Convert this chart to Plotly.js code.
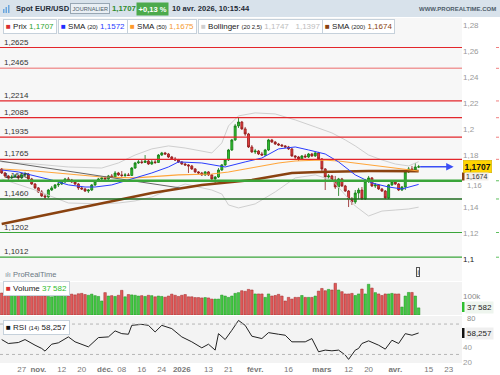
<!DOCTYPE html>
<html><head><meta charset="utf-8">
<script src="https://cdn.plot.ly/plotly-3.0.1.min.js"></script>
<style>html,body{margin:0;padding:0;background:#fff;}#chart{width:500px;height:375px;}</style>
</head><body><div id="chart"></div>
<script>
// ---- data (trading-day index 0 = 17 oct. 2025 ... 125 = 10 avr. 2026)
const open = [1.1691,1.1660,1.1637,1.1622,1.1629,1.1637,1.1622,1.1645,1.1652,1.1614,
1.1575,1.1545,1.1514,1.1483,1.1475,1.1529,1.1545,1.1568,1.1575,1.1591,
1.1614,1.1606,1.1591,1.1575,1.1545,1.1537,1.1521,1.1529,1.1568,1.1598,
1.1614,1.1622,1.1614,1.1637,1.1629,1.1660,1.1645,1.1641,1.1645,1.1641,
1.1698,1.1737,1.1745,1.1741,1.1752,1.1729,1.1745,1.1741,1.1798,1.1814,
1.1806,1.1783,1.1768,1.1760,1.1745,1.1729,1.1722,1.1714,1.1691,1.1668,
1.1660,1.1645,1.1668,1.1645,1.1614,1.1629,1.1683,1.1722,1.1760,1.1837,
1.1914,1.2022,1.2052,1.1999,1.1960,1.1860,1.1822,1.1829,1.1806,1.1798,
1.1837,1.1914,1.1898,1.1883,1.1875,1.1868,1.1860,1.1845,1.1791,1.1783,
1.1768,1.1791,1.1783,1.1806,1.1791,1.1814,1.1768,1.1691,1.1629,1.1637,
1.1606,1.1552,1.1614,1.1560,1.1521,1.1460,1.1437,1.1506,1.1529,1.1460,
1.1598,1.1622,1.1560,1.1568,1.1537,1.1521,1.1468,1.1568,1.1591,1.1575,
1.1529,1.1552,1.1668,1.1691,1.1683,1.1706];
const close = [1.1660,1.1637,1.1622,1.1629,1.1637,1.1622,1.1645,1.1652,1.1614,1.1575,
1.1545,1.1514,1.1483,1.1475,1.1529,1.1545,1.1568,1.1575,1.1591,1.1614,
1.1606,1.1591,1.1575,1.1545,1.1537,1.1521,1.1529,1.1568,1.1598,1.1614,
1.1622,1.1614,1.1637,1.1629,1.1660,1.1645,1.1641,1.1645,1.1641,1.1698,
1.1737,1.1745,1.1741,1.1752,1.1729,1.1745,1.1741,1.1798,1.1814,1.1806,
1.1783,1.1768,1.1760,1.1745,1.1729,1.1722,1.1714,1.1691,1.1668,1.1660,
1.1645,1.1668,1.1645,1.1614,1.1629,1.1683,1.1722,1.1760,1.1837,1.1914,
1.2022,1.2052,1.1999,1.1960,1.1860,1.1822,1.1829,1.1806,1.1798,1.1837,
1.1914,1.1898,1.1883,1.1875,1.1868,1.1860,1.1845,1.1791,1.1783,1.1768,
1.1791,1.1783,1.1806,1.1791,1.1814,1.1768,1.1691,1.1629,1.1637,1.1606,
1.1552,1.1614,1.1560,1.1521,1.1460,1.1437,1.1506,1.1529,1.1460,1.1598,
1.1622,1.1560,1.1568,1.1537,1.1521,1.1468,1.1568,1.1591,1.1575,1.1529,
1.1552,1.1668,1.1691,1.1683,1.1706,1.1707];
const high = [1.1698,1.1668,1.1645,1.1645,1.1652,1.1645,1.1660,1.1668,1.1660,1.1622,
1.1583,1.1552,1.1529,1.1498,1.1537,1.1560,1.1575,1.1591,1.1606,1.1622,
1.1629,1.1614,1.1598,1.1583,1.1560,1.1545,1.1537,1.1575,1.1606,1.1622,
1.1629,1.1637,1.1645,1.1652,1.1675,1.1668,1.1675,1.1660,1.1660,1.1706,
1.1745,1.1760,1.1760,1.1798,1.1760,1.1760,1.1760,1.1806,1.1822,1.1822,
1.1814,1.1791,1.1783,1.1768,1.1752,1.1737,1.1729,1.1722,1.1698,1.1675,
1.1668,1.1675,1.1675,1.1652,1.1637,1.1698,1.1729,1.1768,1.1845,1.1922,
1.2037,1.2083,1.2060,1.2014,1.1968,1.1875,1.1845,1.1837,1.1822,1.1845,
1.1922,1.1922,1.1906,1.1891,1.1883,1.1875,1.1868,1.1852,1.1798,1.1791,
1.1798,1.1806,1.1814,1.1814,1.1822,1.1822,1.1775,1.1698,1.1652,1.1645,
1.1637,1.1622,1.1622,1.1568,1.1529,1.1475,1.1529,1.1545,1.1552,1.1614,
1.1637,1.1629,1.1583,1.1575,1.1545,1.1529,1.1575,1.1606,1.1598,1.1583,
1.1560,1.1675,1.1706,1.1714,1.1737,1.1722];
const low = [1.1652,1.1629,1.1606,1.1614,1.1622,1.1606,1.1614,1.1629,1.1606,1.1568,
1.1537,1.1506,1.1475,1.1460,1.1468,1.1521,1.1537,1.1552,1.1568,1.1583,
1.1598,1.1583,1.1568,1.1529,1.1529,1.1514,1.1506,1.1521,1.1560,1.1591,
1.1606,1.1606,1.1606,1.1622,1.1622,1.1637,1.1629,1.1629,1.1637,1.1637,
1.1691,1.1729,1.1729,1.1737,1.1722,1.1722,1.1729,1.1737,1.1791,1.1798,
1.1775,1.1760,1.1752,1.1737,1.1722,1.1714,1.1660,1.1683,1.1660,1.1652,
1.1637,1.1637,1.1637,1.1598,1.1575,1.1622,1.1675,1.1714,1.1752,1.1829,
1.1906,1.2006,1.1991,1.1945,1.1852,1.1814,1.1806,1.1798,1.1791,1.1791,
1.1829,1.1891,1.1875,1.1868,1.1860,1.1852,1.1837,1.1783,1.1768,1.1752,
1.1760,1.1775,1.1775,1.1783,1.1783,1.1760,1.1668,1.1529,1.1614,1.1598,
1.1537,1.1483,1.1552,1.1514,1.1398,1.1414,1.1422,1.1460,1.1452,1.1452,
1.1583,1.1552,1.1545,1.1529,1.1514,1.1460,1.1460,1.1560,1.1568,1.1521,
1.1521,1.1529,1.1660,1.1668,1.1675,1.1698];
const volume = [116000,112000,108000,110000,106000,104000,108000,102000,100000,98000,
104000,102000,106000,100000,98000,96000,100000,104000,102000,98000,
100000,110000,106000,112000,114000,108000,104000,110000,102000,98000,
74000,118000,100000,102000,98000,104000,130000,96000,108000,106000,
104000,100000,102000,98000,104000,102000,96000,100000,98000,94000,
100000,110000,104000,98000,104000,108000,96000,96000,92000,92000,
90000,92000,90000,
84000,84000,84000,105000,100000,93000,100000,114000,118000,128000,
125000,135000,132000,111000,111000,111000,93000,111000,100000,103000,
109000,100000,74000,93000,84000,93000,93000,103000,93000,93000,
93000,100000,126000,140000,128000,135000,132000,167000,132000,123000,
111000,111000,114000,103000,111000,137000,111000,162000,142000,118000,
111000,103000,111000,111000,114000,111000,111000,
42000,100000,119000,119000,100000,37582];

const sma20Idx = [0,5,10,15,20,25,28,33,40,45,50,53,60,63,67,73,78,83,88,92,97,101,106,111,116,120,125];
const sma20 = [1.1683,1.1668,1.1637,1.1606,1.1568,1.1552,1.1552,1.1568,1.1622,1.1660,1.1706,1.1745,1.1737,1.1722,1.1706,1.1745,1.1775,1.1845,1.1860,1.1837,1.1806,1.1745,1.1645,1.1583,1.1552,1.1537,1.1572];
const sma50Idx = [0,10,20,30,40,45,53,63,68,73,78,83,88,96,101,106,111,116,120,125];
const sma50 = [1.1691,1.1675,1.1652,1.1629,1.1622,1.1629,1.1645,1.1652,1.1668,1.1691,1.1714,1.1737,1.1752,1.1760,1.1752,1.1737,1.1722,1.1706,1.1691,1.1675];
const sma200Idx = [0,34,45,60,75,87,95,110,125];
const sma200 = [1.1268,1.1452,1.1506,1.1568,1.1606,1.1660,1.1668,1.1675,1.1674];
const bollIdx = [0,10,20,30,35,40,45,50,55,60,63,66,68,71,76,82,88,94,99,103,106,110,114,118,122,125];
const bollUp = [1.1745,1.1729,1.1706,1.1698,1.1737,1.1798,1.1845,1.1868,1.1852,1.1829,1.1814,1.1891,1.2022,1.2099,1.2122,1.2114,1.2068,1.2014,1.1968,1.1914,1.1868,1.1798,1.1760,1.1729,1.1714,1.1747];
const bollLo = [1.1614,1.1529,1.1429,1.1422,1.1429,1.1445,1.1475,1.1529,1.1575,1.1545,1.1529,1.1498,1.1414,1.1391,1.1422,1.1514,1.1622,1.1645,1.1606,1.1491,1.1406,1.1329,1.1367,1.1375,1.1383,1.1397];
const rsiIdx = [0,2,5,7,10,12,13,15,17,20,22,25,26,29,32,34,36,38,39,42,44,46,48,51,54,57,60,62,64,65,67,69,71,73,75,78,80,83,85,87,91,93,95,97,99,101,103,104,106,107,108,110,113,115,117,119,121,123,125];
const rsi = [49.6,44.4,45.7,49.6,42.2,37.9,34.4,43.5,45.3,53.1,46.6,42.2,40,52.2,53.1,61,57.4,56.6,68.3,69.6,68.3,59.6,68.3,64,53.1,46.6,38.7,43.5,35.7,57.4,49.6,61.8,74.8,68.3,54,50.9,58.7,56.6,55.3,46.6,46.6,50.9,33.5,35.7,34.8,35.7,29.2,23.5,35.7,37.9,44.4,47.9,42.2,37,48.7,44.4,57.4,55.3,58.257];

const redLevels = [1.2625,1.2465,1.2214,1.2085,1.1935,1.1765];
const redLabels = ['1,2625','1,2465','1,2214','1,2085','1,1935','1,1765'];
const greenLevels = [1.1600,1.1460,1.1202,1.1012];
const greenLabels = ['1,1600','1,1460','1,1202','1,1012'];
const trendStart = [-0.5,1.1752], trendEnd = [53.5,1.1545];

const tickIdx = [6,11,18,24,31,36,42,48,54,62,68,76,86,96,104,110,118,128,134];
const tickLabels = ['27','<b>nov.</b>','12','20','<b>déc.</b>','08','16','24','<b>2026</b>','13','21','<b>févr.</b>','16','<b>mars</b>','12','20','<b>avr.</b>','15','23'];
// 1,16 is written as a separate label, pushed just below the SMA(200) value box
const priceTicks = [1.1,1.12,1.14,1.18,1.2,1.22,1.24,1.26,1.28];
const priceTickText = ['<span style="color:#222">1,1</span>','1,12','1,14','1,18','1,2','1,22','1,24','1,26','1,28'];
const rsiTicks = [20,40];

// ---- layout helpers (pixel -> paper)
const W=462, T=18, H=345;
const px = x => x/W;
const py = y => (T+H-y)/H;
const FONT = 'Liberation Sans, Arial, sans-serif';
const idx = close.map((_,i)=>i);

const GREEN='#2fbf2f', GREEN_L='#137a13', RED='#e23b3b', RED_L='#8e1a1a';

const traces = [
 {type:'scatter',mode:'lines',x:bollIdx,y:bollUp,line:{color:'#cfcfcf',width:1},xaxis:'x',yaxis:'y'},
 {type:'scatter',mode:'lines',x:bollIdx,y:bollLo,line:{color:'#cfcfcf',width:1},xaxis:'x',yaxis:'y'},
 {type:'scatter',mode:'lines',x:sma200Idx,y:sma200,line:{color:'#8a4210',width:2.6},xaxis:'x',yaxis:'y'},
 {type:'scatter',mode:'lines',x:sma50Idx,y:sma50,line:{color:'#ffa53a',width:1.1},xaxis:'x',yaxis:'y'},
 {type:'scatter',mode:'lines',x:sma20Idx,y:sma20,line:{color:'#2a3cff',width:1},xaxis:'x',yaxis:'y'},
 {type:'candlestick',x:idx,open:open,high:high,low:low,close:close,xaxis:'x',yaxis:'y',
  increasing:{fillcolor:GREEN,line:{color:GREEN_L,width:0.8}},
  decreasing:{fillcolor:RED,line:{color:RED_L,width:0.8}},whiskerwidth:0},
 {type:'bar',x:idx,y:volume,xaxis:'x',yaxis:'y2',
  marker:{color:close.map((c,i)=>c>=open[i]?'#43c843':'#e05a5a'),
          line:{color:close.map((c,i)=>c>=open[i]?'#1f8f1f':'#a02828'),width:0.5}}},
 {type:'scatter',mode:'lines',x:rsiIdx,y:rsi,xaxis:'x',yaxis:'y3',line:{color:'#222',width:1}}
];

const shapes = [
 {type:'rect',xref:'paper',yref:'paper',x0:0,x1:px(500),y0:py(17),y1:py(0),fillcolor:'#d8e2eb',line:{width:0},layer:'below'},
 {type:'rect',xref:'paper',yref:'paper',x0:0,x1:1,y0:py(281),y1:py(18),fillcolor:'#f7f7f7',line:{width:0},layer:'below'},
 {type:'rect',xref:'paper',yref:'paper',x0:0,x1:1,y0:py(315),y1:py(282),fillcolor:'#f3f3f3',line:{width:0},layer:'below'},
 {type:'rect',xref:'paper',yref:'paper',x0:0,x1:1,y0:py(363),y1:py(316),fillcolor:'#f3f3f3',line:{width:0},layer:'below'},
 {type:'rect',xref:'paper',yref:'paper',x0:px(3),x1:px(4.5),y0:py(13),y1:py(9),fillcolor:'#6aa6de',line:{width:0}},
 {type:'rect',xref:'paper',yref:'paper',x0:px(5.5),x1:px(7),y0:py(13),y1:py(7),fillcolor:'#6aa6de',line:{width:0}},
 {type:'rect',xref:'paper',yref:'paper',x0:px(8),x1:px(9.5),y0:py(13),y1:py(5),fillcolor:'#6aa6de',line:{width:0}},
 {type:'line',xref:'x',yref:'y',x0:trendStart[0],y0:trendStart[1],x1:trendEnd[0],y1:trendEnd[1],line:{color:'#666',width:1}},
 {type:'line',xref:'paper',yref:'y3',x0:0,x1:1,y0:70,y1:70,line:{color:'#b5b5b5',width:1,dash:'dot'}},
 {type:'line',xref:'paper',yref:'y3',x0:0,x1:1,y0:30,y1:30,line:{color:'#b5b5b5',width:1,dash:'dot'}},
 {type:'rect',xref:'paper',yref:'paper',x0:1,x1:px(464.5),y0:py(180.5),y1:py(172.5),fillcolor:'#8a4210',line:{width:0}},
 {type:'rect',xref:'paper',yref:'paper',x0:1,x1:px(464.5),y0:py(312),y1:py(302),fillcolor:'#2fbf2f',line:{width:0}},
 {type:'rect',xref:'paper',yref:'paper',x0:1,x1:px(464.5),y0:py(338),y1:py(328),fillcolor:'#111',line:{width:0}}
];
redLevels.forEach((v,i)=>{
  shapes.push({type:'line',xref:'paper',yref:'y',x0:0,x1:1,y0:v,y1:v,line:{color:i===1?'#f09a9a':'#e3262b',width:i===1?1.6:1.2}});
  shapes.push({type:'line',xref:'paper',yref:'y',x0:px(496),x1:px(499),y0:v,y1:v,line:{color:'#f08080',width:1}});
});
greenLevels.forEach((v,i)=>{
  shapes.push({type:'line',xref:'paper',yref:'y',x0:0,x1:1,y0:v,y1:v,line:{color:i===1?'#1f6b1f':'#3aa53a',width:i===0?2.6:(i===1?1.6:1.2)}});
  shapes.push({type:'line',xref:'paper',yref:'y',x0:px(496),x1:px(499),y0:v,y1:v,line:{color:'#5fbf5f',width:1}});
});

const box = (x,y,text,extra)=>Object.assign({xref:'paper',yref:'paper',x:px(x),y:py(y),xanchor:'left',yanchor:'middle',
  text:text,showarrow:false,bgcolor:'#ffffff',bordercolor:'#c6d1db',borderwidth:1,borderpad:2,
  font:{family:FONT,size:8,color:'#222'}},extra||{});
const sm = t=>'<span style="font-size:6px">'+t+'</span>';

const annotations = [
 {xref:'paper',yref:'paper',x:px(14),y:py(9),xanchor:'left',yanchor:'middle',showarrow:false,text:'<b>Spot EUR/USD</b>',font:{family:FONT,size:7.6,color:'#1e2a36'}},
 {xref:'paper',yref:'paper',x:px(70),y:py(9),xanchor:'left',yanchor:'middle',showarrow:false,text:'JOURNALIER',bgcolor:'#e9eff4',bordercolor:'#97a6b3',borderwidth:1,borderpad:1.5,font:{family:FONT,size:5.6,color:'#4d5c69'}},
 {xref:'paper',yref:'paper',x:px(110),y:py(9),xanchor:'left',yanchor:'middle',showarrow:false,text:'<b>1,1707</b>',font:{family:FONT,size:7.8,color:'#2e8b2e'}},
 {xref:'paper',yref:'paper',x:px(136),y:py(9),xanchor:'left',yanchor:'middle',showarrow:false,text:'<b>+0,13 %</b>',bgcolor:'#4caa4c',borderpad:1.5,font:{family:FONT,size:7.6,color:'#ffffff'}},
 {xref:'paper',yref:'paper',x:px(170),y:py(9),xanchor:'left',yanchor:'middle',showarrow:false,text:'<b>10 avr. 2026, 10:15:44</b>',font:{family:FONT,size:7.6,color:'#1e2a36'}},
 {xref:'paper',yref:'paper',x:px(498),y:py(9),xanchor:'right',yanchor:'middle',showarrow:false,text:'<b>WWW.PROREALTIME.COM</b>',font:{family:FONT,size:6,color:'#4d5c69'}},
 box(3,27,'<span style="color:#d93030">■</span> Prix <span style="color:#2ea52e">1,1707</span>'),
 box(58,27,'<span style="color:#1f2fff">■</span> SMA '+sm('(20)')+' <span style="color:#2a3cff">1,1572</span>'),
 box(127,27,'<span style="color:#ff9a2a">■</span> SMA '+sm('(50)')+' <span style="color:#f59a30">1,1675</span>'),
 box(198,27,'<span style="color:#cfcfcf">■</span> Bollinger '+sm('(20 2,5)')+' <span style="color:#bdbdbd">1,1747   1,1397</span>'),
 box(322,27,'<span style="color:#8a4210">■</span> SMA '+sm('(200)')+' <span style="color:#8a4210">1,1674</span>'),
 {xref:'paper',yref:'y',x:px(463),y:1.1707,xanchor:'left',yanchor:'middle',showarrow:false,text:'<b>1,1707</b>',bgcolor:'#ffd400',bordercolor:'#c9a800',borderwidth:0.5,borderpad:1,font:{family:FONT,size:8.5,color:'#111'}},
 {xref:'paper',yref:'paper',x:px(465),y:py(176.5),xanchor:'left',yanchor:'middle',showarrow:false,text:'1,1674',bgcolor:'#f2ede9',borderpad:0,font:{family:FONT,size:7,color:'#333'}},
 {xref:'paper',yref:'paper',x:px(465),y:py(185),xanchor:'left',yanchor:'middle',showarrow:false,text:'1,16',font:{family:FONT,size:7.5,color:'#9a9a9a'}},
 {xref:'paper',yref:'paper',x:px(465),y:py(307),xanchor:'left',yanchor:'middle',showarrow:false,text:'37 582',bgcolor:'#eef5ee',borderpad:1,font:{family:FONT,size:8,color:'#222'}},
 {xref:'paper',yref:'paper',x:px(465),y:py(318.5),xanchor:'left',yanchor:'middle',showarrow:false,text:'80',font:{family:FONT,size:7.5,color:'#8a8a8a'}},
 {xref:'paper',yref:'paper',x:px(465),y:py(333),xanchor:'left',yanchor:'middle',showarrow:false,text:'58,257',bgcolor:'#efefef',borderpad:1,font:{family:FONT,size:8,color:'#222'}},
 box(3,288,'<span style="color:#d93030">■</span> Volume <span style="color:#2ebd2e">37 582</span>'),
 box(3,327,'<span style="color:#111">■</span> RSI '+sm('(14)')+' 58,257'),
 {xref:'paper',yref:'paper',x:px(3),y:py(274),xanchor:'left',yanchor:'middle',showarrow:false,text:'<span style="color:#8a98a6">ıłı</span> ProRealTime',font:{family:FONT,size:7.5,color:'#6b7884'}},
 {xref:'paper',yref:'paper',x:px(418),y:py(272),xanchor:'center',yanchor:'middle',showarrow:false,text:'i',bordercolor:'#555',borderwidth:1,borderpad:0.5,font:{family:FONT,size:6.5,color:'#333'}},
 {xref:'x',yref:'y',axref:'x',ayref:'y',x:135.5,y:1.1707,ax:125,ay:1.1707,text:'',showarrow:true,arrowhead:2,arrowsize:1,arrowwidth:1.5,arrowcolor:'#3b4ef5'}
];
redLevels.forEach((v,i)=>annotations.push({xref:'paper',yref:'y',x:px(2),y:v,xanchor:'left',yanchor:'bottom',showarrow:false,text:redLabels[i],font:{family:FONT,size:8,color:'#333'},yshift:-1}));
greenLevels.forEach((v,i)=>annotations.push({xref:'paper',yref:'y',x:px(2),y:v,xanchor:'left',yanchor:'bottom',showarrow:false,text:greenLabels[i],font:{family:FONT,size:8,color:'#333'},yshift:-1}));

const layout = {
 width:500,height:375,margin:{l:0,r:38,t:T,b:12},
 paper_bgcolor:'#ffffff',plot_bgcolor:'#ffffff',showlegend:false,hovermode:false,
 separators:', ',font:{family:FONT,size:8,color:'#888'},
 boxgap:0.15,
 xaxis:{anchor:'y3',range:[-0.5,138],tickvals:tickIdx,ticktext:tickLabels,showgrid:false,zeroline:false,showline:false,
        ticks:'',tickfont:{family:FONT,size:8,color:'#777'},rangeslider:{visible:false},fixedrange:true},
 yaxis:{domain:[py(281),1],range:[1.0829,1.2852],side:'right',anchor:'x',tickvals:priceTicks,ticktext:priceTickText,
        showgrid:false,zeroline:false,ticks:'',tickfont:{family:FONT,size:8,color:'#9a9a9a'},fixedrange:true},
 yaxis2:{domain:[py(315),py(282)],range:[0,174000],side:'right',anchor:'x',tickvals:[100000],ticktext:['100k'],
        showgrid:false,zeroline:false,ticks:'',tickfont:{family:FONT,size:8,color:'#8a8a8a'},fixedrange:true},
 yaxis3:{domain:[0,py(316)],range:[18.75,80.6],side:'right',anchor:'x',tickvals:rsiTicks,
        showgrid:false,zeroline:false,ticks:'',tickfont:{family:FONT,size:8,color:'#9a9a9a'},fixedrange:true},
 bargap:0.25,shapes:shapes,annotations:annotations
};
Plotly.newPlot('chart',traces,layout,{displayModeBar:false,staticPlot:true});
</script></body></html>
